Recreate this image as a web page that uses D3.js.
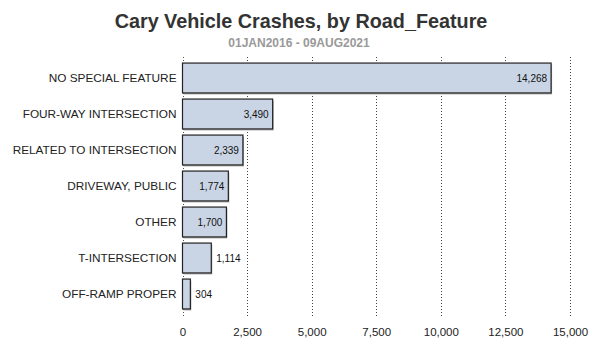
<!DOCTYPE html>
<html><head><meta charset="utf-8">
<script src="https://cdn.jsdelivr.net/npm/d3@7"></script>
<style>body{margin:0;background:#fff}svg{display:block}</style>
</head><body><svg id="c" width="600" height="350"></svg>
<script>
const categories = ["NO SPECIAL FEATURE","FOUR-WAY INTERSECTION","RELATED TO INTERSECTION","DRIVEWAY, PUBLIC","OTHER","T-INTERSECTION","OFF-RAMP PROPER"];
const values = [14268,3490,2339,1774,1700,1114,304];
const tickValues = [0,2500,5000,7500,10000,12500,15000];
const title = "Cary Vehicle Crashes, by Road_Feature";
const subtitle = "01JAN2016 - 09AUG2021";

const svg = d3.select("#c");
const font = "'Liberation Sans', Arial, sans-serif";
const m = {left:182.5, right:570, top:60, bottom:312};
const x = d3.scaleLinear().domain([0,15000]).range([m.left,m.right]);
const y = d3.scaleBand().domain(categories).range([m.top,m.bottom]).paddingInner(0.17).paddingOuter(0.085);
const fmt = d3.format(",");

svg.append("text").attr("x",301).attr("y",28).attr("text-anchor","middle")
  .attr("font-family",font).attr("font-weight","bold").attr("font-size",19.8).attr("fill","#333").text(title);
svg.append("text").attr("x",299).attr("y",47).attr("text-anchor","middle")
  .attr("font-family",font).attr("font-weight","bold").attr("font-size",12).attr("fill","#999").text(subtitle);

// grid
svg.append("g").selectAll("line").data(tickValues).join("line")
  .attr("x1",d=>Math.round(x(d))+0.5).attr("x2",d=>Math.round(x(d))+0.5)
  .attr("y1",57).attr("y2",317)
  .attr("stroke",d=>d===0?"#555":"#444").attr("stroke-width",1).attr("stroke-dasharray","1,2");

// x axis
const xa = svg.append("g").attr("transform","translate(0,317)")
  .call(d3.axisBottom(x).tickValues(tickValues).tickFormat(fmt).tickSize(0).tickPadding(11));
xa.select(".domain").remove();
xa.selectAll("text").attr("font-family",font).attr("font-size",11.5).attr("fill","#222");

// y axis labels
const ya = svg.append("g").attr("transform",`translate(${m.left},0)`)
  .call(d3.axisLeft(y).tickSize(0).tickPadding(6));
ya.select(".domain").remove();
ya.selectAll("text").attr("font-family",font).attr("font-size",11.8).attr("fill","#222");

// bars shadow
svg.append("g").selectAll("rect").data(values).join("rect")
  .attr("x",x(0)+1).attr("y",(d,i)=>y(categories[i])+1.5)
  .attr("width",d=>x(d)-x(0)).attr("height",y.bandwidth())
  .attr("fill","#aaa");
svg.append("g").selectAll("rect").data(values).join("rect")
  .attr("x",x(0)).attr("y",(d,i)=>y(categories[i]))
  .attr("width",d=>x(d)-x(0)).attr("height",y.bandwidth())
  .attr("fill","#c9d5e5").attr("stroke","#222").attr("stroke-width",1.2);

svg.append("g").selectAll("text").data(values).join("text")
  .attr("x",d=>(x(d)-x(0))>38 ? x(d)-4 : x(d)+5)
  .attr("text-anchor",d=>(x(d)-x(0))>38 ? "end" : "start")
  .attr("y",(d,i)=>y(categories[i])+y.bandwidth()/2+3.5)
  .attr("font-family",font).attr("font-size",10).attr("fill","#111")
  .text(d=>fmt(d));
</script></body></html>
